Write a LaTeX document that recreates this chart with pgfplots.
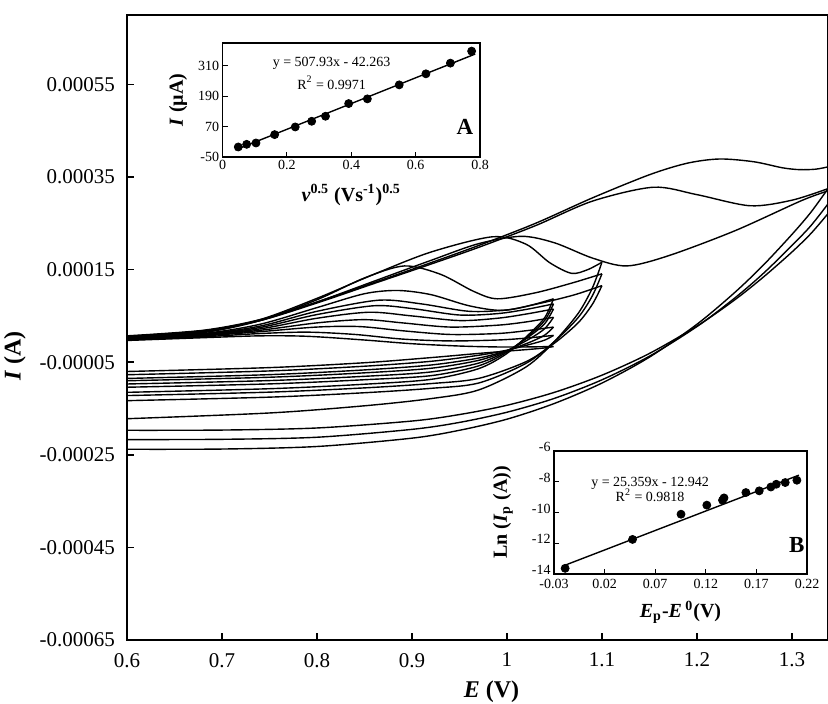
\documentclass[border=0pt]{standalone}
\usepackage{fontspec}
\setmainfont{Liberation Serif}
\usepackage{pgfplots}
\pgfplotsset{compat=1.18}
\usetikzlibrary{calc}

% currents of the voltammograms in units of 1e-4 A (tick labels give the amperes)
\pgfplotsset{
  cv/.style={black, line width=0.7pt, smooth, tension=0.5, mark=none},
  inset/.style={scale only axis, tick pos=left, tick align=inside,
    major tick length=2.5pt, axis line style={line width=0.8pt},
    tick style={line width=0.6pt, black},
    axis background/.style={fill=white},
    ticklabel style={font=\fontsize{7}{8}\selectfont, inner sep=1.5pt},
    label style={font=\fontsize{10}{12}\selectfont}},
}

\begin{document}
\begin{tikzpicture}
\useasboundingbox (-63.5pt,-31.5pt) rectangle (350.5pt,320pt);
\begin{axis}[name=main, scale only axis, width=350.5pt, height=312.5pt,
    xmin=0.6, xmax=1.338, ymin=-6.5, ymax=7.0,
    xtick={0.6,0.7,0.8,0.9,1.0,1.1,1.2,1.3},
    xticklabels={0.6,0.7,0.8,0.9,1,1.1,1.2,1.3},
    ytick={-6.5,-4.5,-2.5,-0.5,1.5,3.5,5.5},
    yticklabels={-0.00065,-0.00045,-0.00025,-0.00005,0.00015,0.00035,0.00055},
    tick pos=left, tick align=inside, major tick length=3.5pt,
    axis line style={line width=0.9pt}, tick style={line width=0.8pt, black},
    ticklabel style={font=\fontsize{10.5}{12}\selectfont},
    xticklabel style={yshift=-3pt}, yticklabel style={xshift=-2.5pt},
    label style={font=\fontsize{12}{14}\selectfont},
    xlabel={\textbf{\textit{E} (V)}},
    ylabel={\textbf{\textit{I} (A)}},
    xlabel style={at={(axis description cs:0.52,-0.083)}, anchor=center},
    ylabel style={at={(axis description cs:-0.16,0.454)}, anchor=center},
    clip=true]

% ---- slow scans, switched at 1.049 V ----
\addplot[cv] coordinates {(0.60,-0.03)(0.68,0.03)(0.74,0.07)(0.79,0.06)(0.85,-0.02)(0.90,-0.10)(0.95,-0.15)(0.99,-0.17)(1.02,-0.17)(1.049,-0.16)};
\addplot[cv] coordinates {(1.049,-0.16)(1.04,-0.19)(1.025,-0.22)(1.0,-0.26)(0.97,-0.31)(0.92,-0.40)(0.85,-0.511)(0.75,-0.616)(0.6,-0.70)};

\addplot[cv] coordinates {(0.60,-0.02)(0.68,0.05)(0.74,0.12)(0.79,0.15)(0.84,0.10)(0.89,0.0)(0.94,-0.04)(0.99,-0.02)(1.02,0.02)(1.049,0.08)};
\addplot[cv] coordinates {(1.049,0.08)(1.04,-0.02)(1.025,-0.11)(1.0,-0.24)(0.97,-0.35)(0.92,-0.48)(0.85,-0.586)(0.75,-0.688)(0.6,-0.77)};

\addplot[cv] coordinates {(0.60,0.0)(0.68,0.07)(0.74,0.16)(0.80,0.26)(0.845,0.27)(0.89,0.18)(0.94,0.10)(0.99,0.12)(1.02,0.18)(1.049,0.26)};
\addplot[cv] coordinates {(1.049,0.26)(1.04,0.09)(1.025,-0.06)(1.0,-0.25)(0.97,-0.41)(0.92,-0.56)(0.85,-0.666)(0.75,-0.768)(0.6,-0.85)};

\addplot[cv] coordinates {(0.60,0.0)(0.68,0.08)(0.74,0.19)(0.80,0.35)(0.85,0.42)(0.89,0.35)(0.94,0.26)(0.99,0.30)(1.02,0.37)(1.049,0.47)};
\addplot[cv] coordinates {(1.049,0.47)(1.04,0.23)(1.025,0.02)(1.0,-0.25)(0.97,-0.46)(0.92,-0.63)(0.85,-0.729)(0.75,-0.824)(0.6,-0.90)};

\addplot[cv] coordinates {(0.60,0.01)(0.68,0.09)(0.74,0.22)(0.80,0.45)(0.855,0.58)(0.90,0.50)(0.95,0.40)(0.99,0.45)(1.02,0.54)(1.049,0.65)};
\addplot[cv] coordinates {(1.049,0.65)(1.04,0.34)(1.025,0.08)(1.0,-0.26)(0.97,-0.52)(0.92,-0.71)(0.85,-0.804)(0.75,-0.896)(0.6,-0.97)};

\addplot[cv] coordinates {(0.60,0.02)(0.68,0.10)(0.74,0.25)(0.80,0.53)(0.86,0.72)(0.90,0.66)(0.95,0.52)(0.99,0.55)(1.02,0.64)(1.049,0.76)};
\addplot[cv] coordinates {(1.049,0.76)(1.04,0.41)(1.025,0.11)(1.0,-0.28)(0.97,-0.58)(0.92,-0.79)(0.85,-0.878)(0.75,-0.968)(0.6,-1.04)};

\addplot[cv] coordinates {(0.60,0.03)(0.68,0.11)(0.74,0.28)(0.80,0.60)(0.865,0.84)(0.91,0.76)(0.96,0.60)(1.0,0.63)(1.025,0.73)(1.049,0.87)};
\addplot[cv] coordinates {(1.049,0.87)(1.04,0.47)(1.025,0.14)(1.0,-0.31)(0.97,-0.64)(0.92,-0.87)(0.85,-0.975)(0.75,-1.072)(0.6,-1.15)};

% ---- medium scans, switched at 1.10 V ----
\addplot[cv] coordinates {(0.60,0.03)(0.68,0.12)(0.74,0.32)(0.80,0.68)(0.85,0.98)(0.885,1.05)(0.92,0.96)(0.96,0.72)(0.995,0.62)(1.03,0.75)(1.07,0.95)(1.10,1.155)};
\addplot[cv] coordinates {(1.10,1.155)(1.09,0.754)(1.075,0.353)(1.05,-0.088)(1.02,-0.489)(0.97,-0.85)(0.92,-0.961)(0.85,-1.054)(0.75,-1.146)(0.6,-1.22)};

\addplot[cv] coordinates {(0.60,0.04)(0.68,0.14)(0.74,0.40)(0.80,0.85)(0.85,1.32)(0.892,1.58)(0.93,1.40)(0.965,1.03)(0.99,0.87)(1.03,1.0)(1.07,1.22)(1.10,1.41)};
\addplot[cv] coordinates {(1.10,1.41)(1.09,0.938)(1.075,0.466)(1.05,-0.053)(1.02,-0.525)(0.97,-0.95)(0.92,-1.064)(0.85,-1.159)(0.75,-1.254)(0.6,-1.33)};

\addplot[cv] coordinates {(0.60,0.05)(0.68,0.16)(0.74,0.42)(0.80,0.88)(0.86,1.40)(0.92,1.88)(0.985,2.21)(1.02,2.05)(1.045,1.65)(1.068,1.42)(1.085,1.50)(1.10,1.66)};
\addplot[cv] coordinates {(1.10,1.66)(1.09,1.108)(1.075,0.556)(1.05,-0.051)(1.02,-0.603)(0.97,-1.10)(0.92,-1.286)(0.85,-1.441)(0.75,-1.596)(0.6,-1.72)};

% ---- fast scans, switched beyond the right edge ----
\addplot[cv] coordinates {(0.60,0.05)(0.68,0.17)(0.74,0.40)(0.80,0.80)(0.86,1.25)(0.92,1.70)(0.97,2.06)(1.015,2.22)(1.05,2.08)(1.09,1.75)(1.126,1.58)(1.17,1.80)(1.24,2.34)(1.31,2.99)(1.338,3.20)};
\addplot[cv] coordinates {(1.338,2.71)(1.32,2.28)(1.30,1.88)(1.27,1.34)(1.24,0.85)(1.20,0.28)(1.15,-0.31)(1.10,-0.78)(1.05,-1.15)(1.00,-1.43)(0.95,-1.63)(0.90,-1.77)(0.80,-1.92)(0.70,-1.965)(0.60,-1.97)};

\addplot[cv] coordinates {(0.60,0.06)(0.68,0.18)(0.74,0.40)(0.80,0.78)(0.86,1.20)(0.92,1.62)(0.97,1.98)(1.03,2.45)(1.09,2.98)(1.154,3.28)(1.20,3.12)(1.256,2.88)(1.30,3.0)(1.338,3.25)};
\addplot[cv] coordinates {(1.338,2.92)(1.32,2.45)(1.30,2.02)(1.27,1.42)(1.24,0.89)(1.20,0.27)(1.15,-0.37)(1.10,-0.88)(1.05,-1.28)(1.00,-1.58)(0.95,-1.80)(0.90,-1.95)(0.80,-2.12)(0.70,-2.165)(0.60,-2.17)};

\addplot[cv] coordinates {(0.60,0.07)(0.68,0.19)(0.74,0.42)(0.80,0.80)(0.86,1.22)(0.92,1.65)(0.97,2.02)(1.03,2.50)(1.09,3.05)(1.15,3.55)(1.19,3.80)(1.224,3.89)(1.26,3.83)(1.29,3.70)(1.308,3.66)(1.325,3.67)(1.338,3.72)};
\addplot[cv] coordinates {(1.338,3.25)(1.32,2.74)(1.30,2.26)(1.27,1.60)(1.24,1.01)(1.20,0.32)(1.15,-0.39)(1.10,-0.95)(1.05,-1.39)(1.00,-1.73)(0.95,-1.97)(0.90,-2.14)(0.80,-2.32)(0.70,-2.375)(0.60,-2.38)};
\end{axis}

% ---- inset A: peak current vs square root of scan rate ----
\begin{axis}[inset, at={($(main.north west)+(47.75pt,-14pt)$)}, anchor=north west,
    width=128.75pt, height=57pt,
    xmin=0, xmax=0.8, ymin=-50, ymax=400,
    xtick={0,0.2,0.4,0.6,0.8}, xticklabels={0,0.2,0.4,0.6,0.8},
    ytick={-50,70,190,310}, yticklabels={-50,70,190,310},
    xlabel={\textbf{\textit{ν}\textsuperscript{0.5} (Vs\textsuperscript{-1})\textsuperscript{0.5}}},
    ylabel={\textbf{\textit{I} (µA)}},
    xlabel style={at={(axis description cs:0.5,-0.333)}, anchor=center},
    ylabel style={at={(axis description cs:-0.173,0.5)}, anchor=center}]
\addplot[black, line width=0.7pt] coordinates {(0.04,-21.9)(0.785,356.5)};
\addplot[only marks, mark=*, mark size=2pt, black] coordinates {
 (0.049,-10.4)(0.075,0.1)(0.104,5.4)(0.162,38.4)(0.226,68.7)(0.277,91.1)(0.320,110.9)
 (0.392,161)(0.450,179.5)(0.549,234.8)(0.632,278.4)(0.708,320.6)(0.774,368)};
\node[font=\fontsize{7}{8}\selectfont] at (axis cs:0.339,320) {y = 507.93x - 42.263};
\node[font=\fontsize{7}{8}\selectfont] at (axis cs:0.339,243) {R\textsuperscript{2} = 0.9971};
\node[font=\fontsize{11.5}{13}\selectfont\bfseries] at (axis cs:0.753,70) {A};
\end{axis}

% ---- inset B: ln of peak current vs overpotential ----
\begin{axis}[inset, at={($(main.north west)+(213.5pt,-218pt)$)}, anchor=north west,
    width=126.5pt, height=61.5pt,
    xmin=-0.03, xmax=0.22, ymin=-14, ymax=-6,
    xtick={-0.03,0.02,0.07,0.12,0.17,0.22}, xticklabels={-0.03,0.02,0.07,0.12,0.17,0.22},
    ytick={-14,-12,-10,-8,-6}, yticklabels={-14,-12,-10,-8,-6},
    yticklabel style={yshift=2pt}, xticklabel style={yshift=-0.8pt},
    xlabel={\textbf{\textit{E}\textsubscript{p}-\textit{E}\,\textsuperscript{0}(V)}},
    ylabel={\textbf{Ln (\textit{I}\textsubscript{p} (A))}},
    xlabel style={at={(axis description cs:0.5,-0.309)}, anchor=center},
    ylabel style={at={(axis description cs:-0.2016,0.5)}, anchor=center}]
\addplot[black, line width=0.7pt] coordinates {(-0.02,-13.45)(0.212,-7.57)};
\addplot[only marks, mark=*, mark size=2pt, black] coordinates {
 (-0.019,-13.63)(0.0476,-11.75)(0.0955,-10.11)(0.121,-9.52)(0.1365,-9.20)(0.138,-9.05)
 (0.1596,-8.70)(0.1728,-8.59)(0.1843,-8.34)(0.1896,-8.16)(0.1985,-8.05)(0.210,-7.90)};
\node[font=\fontsize{7}{8}\selectfont] at (axis cs:0.0649,-8.08) {y = 25.359x - 12.942};
\node[font=\fontsize{7}{8}\selectfont] at (axis cs:0.0649,-8.85) {R\textsuperscript{2} = 0.9818};
\node[font=\fontsize{11.5}{13}\selectfont\bfseries] at (axis cs:0.210,-12.11) {B};
\end{axis}
\end{tikzpicture}
\end{document}
